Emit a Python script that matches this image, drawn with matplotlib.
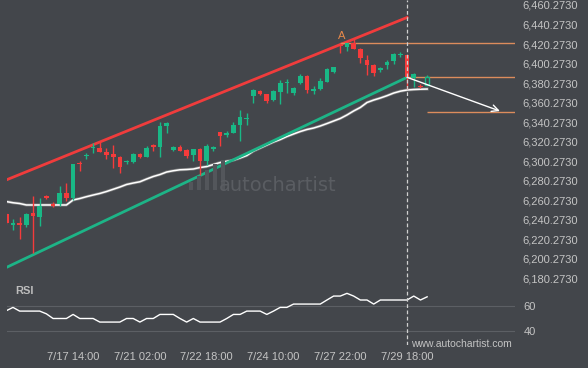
import numpy as np
import matplotlib.pyplot as plt
from matplotlib.patches import Rectangle

plt.rcParams['font.family'] = ['Liberation Sans', 'DejaVu Sans']

# candle data
opens = [6245.9, 6235.2, 6236.4, 6234.6, 6247.0, 6243.2, 6264.4, 6256.2, 6256.2, 6267.2,
         6262.0, 6298.2, 6305.4, 6313.6, 6313.3, 6309.2, 6307.5, 6304.4, 6299.0, 6299.3,
         6307.5, 6304.7, 6316.2, 6314.3, 6336.7, 6311.6, 6314.3, 6311.6, 6306.4, 6313.1,
         6300.6, 6313.3, 6329.7, 6326.6, 6328.7, 6337.2, 6343.4, 6367.3, 6371.6, 6368.5,
         6362.8, 6371.4, 6380.3, 6370.0, 6380.0, 6387.5, 6372.6, 6373.8, 6381.6, 6391.6,
         6418.9, 6416.9, 6421.0, 6415.1, 6403.9, 6398.7, 6394.1, 6398.7, 6403.2, 6409.0,
         6409.0, 6385.1, 6376.9, 6378.2]
highs = [6247.0, 6240.5, 6242.8, 6246.5, 6264.4, 6262.0, 6265.4, 6258.2, 6274.6, 6277.4,
         6297.7, 6300.6, 6308.2, 6319.1, 6319.8, 6313.3, 6316.7, 6305.4, 6301.3, 6308.8,
         6309.0, 6315.7, 6317.7, 6340.6, 6339.8, 6315.7, 6316.7, 6312.1, 6313.1, 6313.6,
         6317.7, 6315.7, 6330.0, 6331.4, 6340.6, 6352.6, 6349.8, 6374.1, 6373.1, 6369.0,
         6372.6, 6383.4, 6384.9, 6375.9, 6389.2, 6388.0, 6377.7, 6385.4, 6395.4, 6397.0,
         6421.6, 6421.3, 6425.9, 6415.7, 6409.0, 6399.3, 6397.0, 6403.9, 6411.4, 6412.4,
         6409.5, 6390.8, 6379.3, 6388.5]
lows = [6235.7, 6229.5, 6220.0, 6232.6, 6205.6, 6233.9, 6261.3, 6252.8, 6254.1, 6259.6,
        6260.3, 6289.7, 6302.0, 6308.2, 6309.5, 6302.0, 6292.8, 6287.7, 6297.7, 6298.7,
        6303.4, 6304.4, 6310.2, 6304.1, 6329.3, 6311.0, 6310.5, 6303.1, 6300.6, 6286.4,
        6296.2, 6310.8, 6315.7, 6325.2, 6328.5, 6321.1, 6337.2, 6359.5, 6368.0, 6359.8,
        6361.8, 6359.1, 6369.7, 6367.7, 6378.9, 6370.0, 6369.3, 6373.6, 6381.3, 6391.0,
        6410.7, 6413.4, 6415.1, 6401.1, 6388.5, 6387.5, 6391.9, 6394.3, 6399.8, 6407.3,
        6374.1, 6376.5, 6374.8, 6378.2]
closes = [6236.7, 6236.2, 6234.3, 6245.9, 6244.2, 6254.1, 6262.3, 6254.6, 6267.8, 6262.3,
          6297.2, 6297.2, 6306.4, 6314.6, 6309.8, 6306.4, 6304.7, 6294.4, 6300.1, 6307.5,
          6304.1, 6313.6, 6315.2, 6336.2, 6339.3, 6314.3, 6311.0, 6305.4, 6312.3, 6300.8,
          6315.7, 6314.1, 6326.2, 6329.3, 6337.2, 6345.7, 6344.4, 6373.6, 6368.5, 6362.3,
          6372.1, 6380.0, 6381.3, 6375.2, 6387.5, 6373.1, 6373.6, 6382.6, 6394.3, 6396.4,
          6417.9, 6421.0, 6415.5, 6405.6, 6398.7, 6390.2, 6395.1, 6402.1, 6409.7, 6410.0,
          6386.4, 6389.2, 6375.9, 6386.1]

# moving average
ma = [6258.7, 6257.5, 6256.7, 6255.2, 6255.2, 6255.2, 6255.2, 6255.2, 6255.2, 6255.2,
      6260.3, 6261.8, 6263.7, 6265.4, 6267.0, 6269.0, 6271.3, 6273.6, 6276.2, 6277.7,
      6279.0, 6281.8, 6284.4, 6286.4, 6289.0, 6290.3, 6291.3, 6291.6, 6292.1, 6293.6,
      6294.6, 6296.7, 6298.7, 6300.0, 6301.1, 6303.4, 6305.9, 6310.5, 6313.6, 6316.7,
      6319.8, 6322.3, 6325.4, 6328.0, 6330.5, 6332.6, 6334.1, 6336.2, 6338.7, 6341.3,
      6343.9, 6347.5, 6351.6, 6355.2, 6360.3, 6362.8, 6364.9, 6367.3, 6370.0, 6371.9,
      6373.1, 6373.6, 6373.9, 6374.1]

# RSI
rsi = [56.2, 58.9, 55.9, 55.9, 55.9, 55.9, 53.7, 49.9, 49.9, 49.9,
       53.2, 49.9, 49.9, 49.9, 47.0, 47.0, 47.0, 47.0, 49.9, 49.9,
       47.0, 49.9, 49.9, 53.2, 53.2, 53.2, 49.9, 47.0, 49.9, 47.0,
       47.0, 47.0, 47.0, 49.9, 53.2, 53.2, 55.9, 55.9, 55.9, 53.2,
       55.9, 58.9, 58.9, 61.6, 61.6, 61.6, 61.6, 61.6, 64.9, 68.1,
       68.1, 70.3, 68.1, 64.9, 64.9, 61.6, 64.9, 64.9, 64.9, 64.9,
       64.9, 68.1, 64.9, 67.5]

# channel lines (start / end candle)
channel_x = [0, 60]
upper_line = [6280.9, 6447.5]
lower_line = [6191.1, 6386.1]

# horizontal levels
level_prices = [6421.0, 6386.1, 6350.8]
level_start = [50, 60, 63]
forecast_x = [60, 73.9]
forecast_y = [6386.1, 6351.5]
pattern_end = 60

price_ticks = [6180.273 + 20 * k for k in range(15)]
price_labels = [f'{p:,.4f}' for p in price_ticks]
date_pos = [10, 20, 30, 40, 50, 60]
date_labels = ['7/17 14:00', '7/21 02:00', '7/22 18:00', '7/24 10:00', '7/27 22:00', '7/29 18:00']

bg = '#43464b'
green = '#19b886'
red = '#f53b3b'
orange = '#dc8c5c'
txt = '#c4c4c4'

fig = plt.figure(figsize=(5.88, 3.68), dpi=100, facecolor=bg)
ax = fig.add_axes([0.0124, 0.2310, 0.8634, 0.7690])
rsi_ax = fig.add_axes([0.0124, 0.0625, 0.8634, 0.1685])

for a in (ax, rsi_ax):
    a.set_facecolor(bg)
    for s in a.spines.values():
        s.set_visible(False)
    a.set_xlim(0.15, 76.15)

# watermark
fig.text(0.472, 0.497, 'autochartist', color='#5a5d62', fontsize=14,
         family='DejaVu Sans', ha='center', va='center')
for k, h in enumerate([8, 14, 20, 26, 30]):
    fig.add_artist(Rectangle((0.322 + k * 0.0135, 0.484), 0.007, h / 368,
                             transform=fig.transFigure, color='#53565b', lw=0))

# channel and average
ax.plot(channel_x, upper_line, color='#f03c3c', lw=2, zorder=3)
ax.plot(channel_x, lower_line, color='#1db487', lw=2, zorder=3)
idx = np.arange(len(ma))
ax.plot(idx, ma, color='#8c8c8c', lw=2.2, alpha=0.7, zorder=2)
ax.plot(idx, ma, color='white', lw=1.1, zorder=2)

# candles
o = np.array(opens)
c = np.array(closes)
cols = [green if cc >= oo else red for oo, cc in zip(o, c)]
ax.vlines(idx, lows, highs, colors=cols, lw=1, zorder=4)
h = np.maximum(np.abs(c - o), 1.3)
mid = (o + c) / 2
n = len(o) - 1
ax.bar(idx[:n], h[:n], bottom=(mid - h / 2)[:n], width=0.7, color=cols[:n], lw=0, zorder=5)
ax.bar(idx[n], h[n], bottom=mid[n] - h[n] / 2, width=0.7, facecolor=bg,
       edgecolor=green, lw=1, zorder=5)

# levels and forecast
for p, s in zip(level_prices, level_start):
    ax.hlines(p, s, 76.15, color=orange, lw=1, zorder=3)
ax.annotate('', xy=(forecast_x[1], forecast_y[1]), xytext=(forecast_x[0], forecast_y[0]),
            arrowprops=dict(arrowstyle='->', color='white', lw=1, shrinkA=0, shrinkB=0,
                            mutation_scale=12), zorder=6)
ax.annotate('A', xy=(50, highs[50]), xytext=(1, 1), textcoords='offset points',
            color='#e8894a', fontsize=8, ha='center', va='bottom')

ax.axvline(pattern_end, color='#d0d0d0', ls=(0, (3, 2)), lw=0.9, zorder=7)
rsi_ax.axvline(pattern_end, color='#d0d0d0', ls=(0, (3, 2)), lw=0.9, zorder=7)

ax.set_ylim(6175.2, 6465.4)
ax.yaxis.tick_right()
ax.set_yticks(price_ticks)
ax.set_yticklabels(price_labels)
ax.set_xticks([])
ax.tick_params(axis='y', length=0, pad=5, colors=txt, labelsize=8)

# RSI panel
rsi_ax.axhline(60, color='#5c5f64', lw=0.8)
rsi_ax.axhline(40, color='#5c5f64', lw=0.8)
rsi_ax.plot(np.arange(len(rsi)), rsi, color='white', lw=1)
rsi_ax.set_ylim(28.4, 78.7)
rsi_ax.yaxis.tick_right()
rsi_ax.set_yticks([40, 60])
rsi_ax.set_xticks(date_pos)
rsi_ax.set_xticklabels(date_labels)
rsi_ax.tick_params(length=0, colors=txt, labelsize=8)
rsi_ax.tick_params(axis='y', pad=6)
rsi_ax.tick_params(axis='x', pad=5)
rsi_ax.text(0.015, 0.87, 'RSI', transform=rsi_ax.transAxes, color='#bdbdbd',
            fontsize=8, fontweight='bold', va='center')
fig.text(411 / 588, 1 - 344 / 368, 'www.autochartist.com', color=txt, fontsize=7.5,
         va='center')

fig.savefig('out.png', dpi=100, facecolor=bg)
